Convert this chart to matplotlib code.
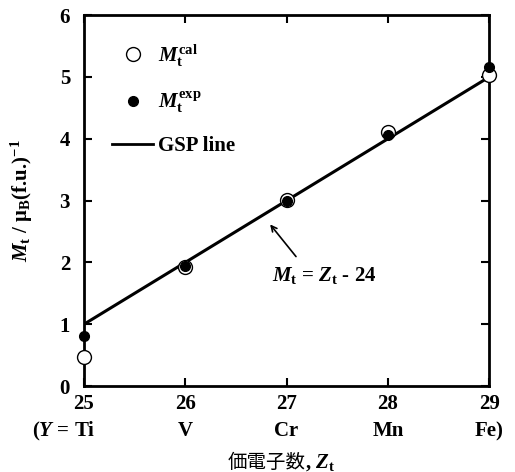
import matplotlib.pyplot as plt
from matplotlib.lines import Line2D

plt.rcParams['font.family'] = ['Liberation Serif', 'Noto Sans CJK JP']
plt.rcParams['font.weight'] = 'bold'
plt.rcParams['mathtext.fontset'] = 'custom'
plt.rcParams['mathtext.rm'] = 'Liberation Serif:bold'
plt.rcParams['mathtext.it'] = 'Liberation Serif:italic:bold'
plt.rcParams['mathtext.bf'] = 'Liberation Serif:bold'

# data
zt = [25, 26, 27, 28, 29]
elements = ['(Y = Ti', 'V', 'Cr', 'Mn', 'Fe)']
m_cal = [0.47, 1.92, 3.01, 4.11, 5.03]
m_exp = [0.81, 1.95, 3.0, 4.06, 5.16]
gsp = [z - 24 for z in zt]


def main():
    fig = plt.figure(figsize=(5.15, 4.72), dpi=100)
    ax = fig.add_axes([0.163, 0.182, 0.787, 0.786])

    ax.plot(zt, gsp, color='black', lw=2.2, zorder=2)
    ax.plot(zt, m_cal, 'o', ms=10, mfc='white', mec='black', mew=1.0,
            clip_on=False, zorder=3)
    ax.plot(zt, m_exp, 'o', ms=7, mfc='black', mec='black',
            clip_on=False, zorder=4)

    ax.set_xlim(25, 29)
    ax.set_ylim(0, 6)
    ax.set_xticks(zt)
    ax.set_xticklabels([str(z) for z in zt])
    ax.set_yticks(range(0, 7))
    ax.tick_params(direction='in', length=6, width=1.5, labelsize=15,
                   top=True, right=True)
    ax.tick_params(axis='x', pad=6)
    ax.tick_params(axis='y', pad=10)
    for s in ax.spines.values():
        s.set_linewidth(2)

    # element row under tick labels
    for z, el in zip(zt, elements):
        if el.startswith('(Y'):
            ax.text(z + 0.11, -0.73, '($\\mathit{Y}$ = Ti', ha='right', va='center',
                    fontsize=15)
        else:
            ax.text(z, -0.73, el, ha='center', va='center', fontsize=15)

    # x label: CJK part and math part as separate texts
    ax.text(0.546, -0.205, '価電子数', transform=ax.transAxes, ha='right',
            va='center', fontsize=14, fontweight='normal',
            family=['Noto Sans CJK JP', 'DejaVu Sans'])
    ax.text(0.546, -0.205, ', $Z_\\mathrm{t}$', transform=ax.transAxes,
            ha='left', va='center', fontsize=15)

    ax.set_ylabel('$M_\\mathrm{t}$ / μ$_\\mathrm{B}$(f.u.)$^{-1}$', fontsize=15,
                  fontweight='bold', labelpad=18)

    ax.annotate('', xy=(26.82, 2.65), xytext=(27.11, 2.06),
                arrowprops=dict(arrowstyle='->', color='black', lw=1.2))
    ax.text(26.86, 1.79, '$M_\\mathrm{t}$ = $Z_\\mathrm{t}$ - 24', fontsize=15,
            ha='left', va='center')

    handles = [
        Line2D([], [], marker='o', ls='none', ms=10, mfc='white', mec='black'),
        Line2D([], [], marker='o', ls='none', ms=7, mfc='black', mec='black'),
        Line2D([], [], color='black', lw=2),
    ]
    labels = ['$M_\\mathrm{t}^\\mathrm{cal}$', '$M_\\mathrm{t}^\\mathrm{exp}$',
              'GSP line']
    ax.legend(handles, labels, loc='upper left', bbox_to_anchor=(0.043, 0.955),
              frameon=False, fontsize=15, handlelength=2.0, handletextpad=0.2,
              labelspacing=1.0, borderpad=0)

    fig.savefig('out.png', dpi=100)


if __name__ == "__main__":
    main()
